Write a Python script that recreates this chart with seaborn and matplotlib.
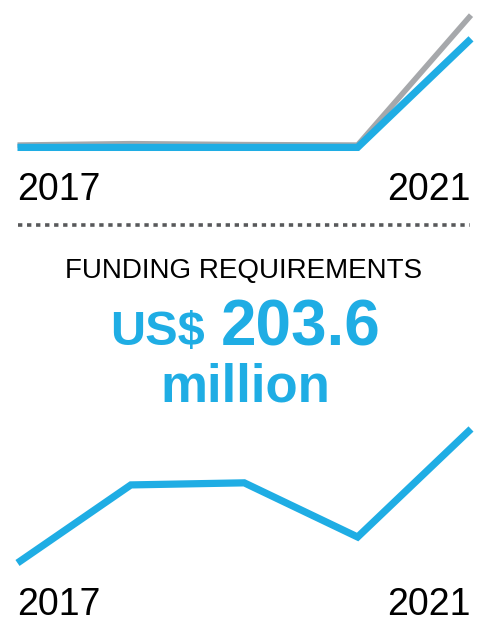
import matplotlib
matplotlib.use("Agg")
import matplotlib.pyplot as plt
from matplotlib.lines import Line2D
import numpy as np
import pandas as pd
import seaborn as sns

# Data
years = [2017, 2018, 2019, 2020, 2021]
in_need = [0.30, 0.33, 0.31, 0.30, 3.10]
targeted = [0.25, 0.25, 0.25, 0.25, 2.59]
requirements = [120.0, 168.7, 170.0, 136.2, 203.6]
year_labels = ["2017", "2021"]

BLUE = "#1FADE4"
GREY = "#A6A8AB"
DOT = "#58595B"

sns.set_theme(style="white")
plt.rcParams["font.family"] = ["Liberation Sans", "DejaVu Sans"]

W, H = 482, 618
fig = plt.figure(figsize=(W / 100, H / 100), dpi=100)
fig.patch.set_facecolor("white")


def px_axes(x0, x1, ytop, ybot):
    return fig.add_axes([x0 / W, 1 - ybot / H, (x1 - x0) / W, (ybot - ytop) / H])


def style_axes(ax, ylim, pad):
    ax.set_xlim(years[0], years[-1])
    ax.set_ylim(*ylim)
    ax.set_yticks([])
    ax.set_xticks([years[0], years[-1]])
    ax.set_xticklabels(year_labels, fontsize=27, color="black")
    labels = ax.get_xticklabels()
    labels[0].set_horizontalalignment("left")
    labels[1].set_horizontalalignment("right")
    ax.tick_params(axis="x", length=0, pad=pad)
    ax.set_xlabel("")
    ax.set_ylabel("")
    for s in ax.spines.values():
        s.set_visible(False)
    ax.set_facecolor("none")


# Top chart: two series
top = pd.DataFrame({"year": years, "in_need": in_need, "targeted": targeted})
ax1 = px_axes(17.5, 471, 0, 159)
sns.lineplot(data=top, x="year", y="in_need", ax=ax1, color=GREY, linewidth=4.0,
             solid_capstyle="butt", solid_joinstyle="miter", clip_on=False)
sns.lineplot(data=top, x="year", y="targeted", ax=ax1, color=BLUE, linewidth=5.2,
             solid_capstyle="butt", solid_joinstyle="miter", clip_on=False)
style_axes(ax1, (0, 3.427), pad=9.5)

# Bottom chart: funding requirements
bottom = pd.DataFrame({"year": years, "requirements": requirements})
ax2 = px_axes(17.5, 471, 420, 575)
sns.lineplot(data=bottom, x="year", y="requirements", ax=ax2, color=BLUE, linewidth=5.2,
             solid_capstyle="butt", solid_joinstyle="miter", clip_on=False)
style_axes(ax2, (112.5, 209.2), pad=8.5)

# Dotted divider
fig.add_artist(Line2D([18 / W, 470 / W], [1 - 225 / H, 1 - 225 / H], transform=fig.transFigure,
                      color=DOT, linewidth=2.6, linestyle=(0, (1.2, 1.3)),
                      solid_capstyle="butt", dash_capstyle="butt"))

# Headline text
fig.text(244 / W, 1 - 278 / H, "FUNDING REQUIREMENTS", ha="center", va="baseline",
         fontsize=20, color="black")
fig.text(205 / W, 1 - 345 / H, "US$", ha="right", va="baseline",
         fontsize=35, fontweight="bold", color=BLUE)
fig.text(221 / W, 1 - 345 / H, "203.6", ha="left", va="baseline",
         fontsize=46, fontweight="bold", color=BLUE)
fig.text(245 / W, 1 - 402 / H, "million", ha="center", va="baseline",
         fontsize=38, fontweight="bold", color=BLUE)

fig.savefig("out.png", dpi=100, facecolor="white")
